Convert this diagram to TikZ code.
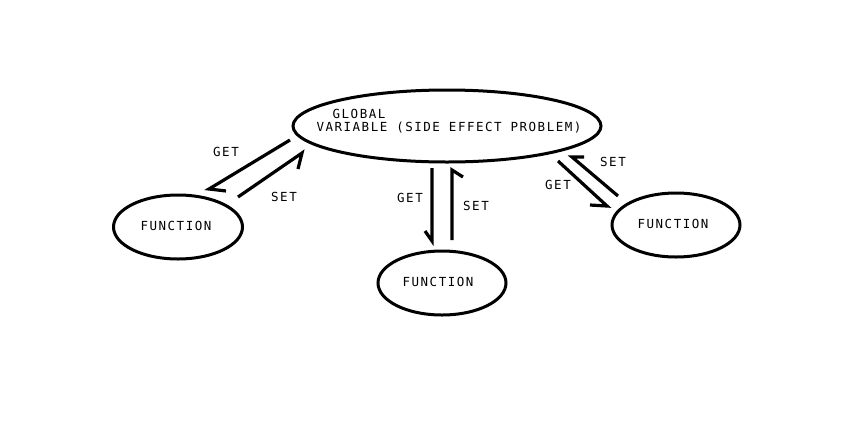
\documentclass[tikz,border=0pt]{standalone}
\usepackage{fontspec}
\usetikzlibrary{shapes.geometric}
\newfontfamily\pixfont[LetterSpace=12]{DejaVu Sans Mono}
\begin{document}
\begin{tikzpicture}[x=1pt,y=-1pt,
  bubble/.style={draw,ellipse,line width=3pt,inner sep=0pt},
  lbl/.style={font=\pixfont\fontsize{12.5}{14}\selectfont,inner sep=0pt,anchor=center},
  wire/.style={line width=3.2pt,line join=miter,line cap=butt}]
\useasboundingbox[fill=white] (0,0) rectangle (846,421);
\node[bubble,minimum width=308pt,minimum height=72pt] (g) at (447,126) {};
\node[bubble,minimum width=129pt,minimum height=64pt] (f1) at (178,227) {};
\node[bubble,minimum width=128pt,minimum height=64pt] (f2) at (442,283) {};
\node[bubble,minimum width=128pt,minimum height=64pt] (f3) at (676,225) {};
\node[lbl] (gt1) at (359,114) {GLOBAL};
\node[lbl] (gt2) at (449,128) {VARIABLE (SIDE EFFECT PROBLEM)};
\node[lbl] (ft1) at (176,226) {FUNCTION};
\node[lbl] (ft2) at (438,282) {FUNCTION};
\node[lbl] (ft3) at (673,224) {FUNCTION};
\node[lbl] (l1) at (226,152) {GET};
\node[lbl] (l2) at (284,197) {SET};
\node[lbl] (l3) at (410,198) {GET};
\node[lbl] (l4) at (476,206) {SET};
\node[lbl] (l5) at (558,185) {GET};
\node[lbl] (l6) at (613,162) {SET};
% arrow coordinates
\coordinate (a1s) at (290,140); \coordinate (a1t) at (209,189); \coordinate (a1b) at (226,191);
\coordinate (a2s) at (238,197); \coordinate (a2t) at (302,153); \coordinate (a2b) at (298,169);
\coordinate (a3s) at (432,168); \coordinate (a3t) at (432,241); \coordinate (a3b) at (425,231);
\coordinate (a4s) at (452,240); \coordinate (a4t) at (452,170); \coordinate (a4b) at (463,177);
\coordinate (a5s) at (558,161); \coordinate (a5t) at (607,206); \coordinate (a5b) at (590,205);
\coordinate (a6s) at (618,196); \coordinate (a6t) at (572,157); \coordinate (a6b) at (584,157);
\draw[wire] (a1s) -- (a1t) -- (a1b);
\draw[wire] (a2s) -- (a2t) -- (a2b);
\draw[wire] (a3s) -- (a3t) -- (a3b);
\draw[wire] (a4s) -- (a4t) -- (a4b);
\draw[wire] (a5s) -- (a5t) -- (a5b);
\draw[wire] (a6s) -- (a6t) -- (a6b);
\end{tikzpicture}
\end{document}
